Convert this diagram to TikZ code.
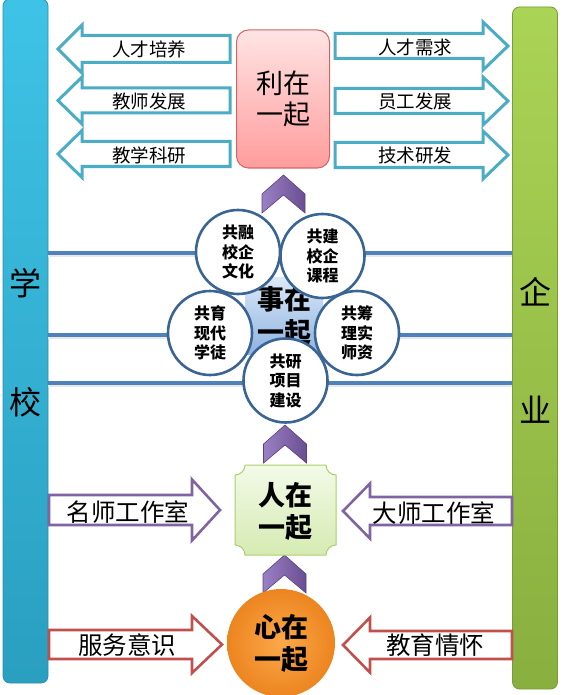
\documentclass[tikz,border=0pt]{standalone}
\usepackage{fontspec}
\setmainfont{Noto Sans CJK SC}
\usetikzlibrary{calc}
\definecolor{aquaedge}{HTML}{4BACC6}
\definecolor{purpedge}{HTML}{8064A2}
\definecolor{rededge}{HTML}{C0504D}
\definecolor{linkblue}{HTML}{4F81BD}
\definecolor{petaledge}{HTML}{3A6493}
\definecolor{schooltop}{HTML}{3EC3E6}
\definecolor{schoolbot}{HTML}{2A9FC0}
\definecolor{schooledge}{HTML}{2790AE}
\definecolor{firmtop}{HTML}{AAD455}
\definecolor{firmbot}{HTML}{89AF3F}
\definecolor{firmedge}{HTML}{789C36}
\definecolor{chevlight}{HTML}{9A80C4}
\definecolor{chevdark}{HTML}{6A4E92}
\definecolor{chevedge}{HTML}{5B437F}
\definecolor{litop}{HTML}{FFE4E4}
\definecolor{libot}{HTML}{FF9C9C}
\definecolor{liedge}{HTML}{D06565}
\definecolor{shitop}{HTML}{DCE8F7}
\definecolor{shibot}{HTML}{8DB3E2}
\definecolor{rentop}{HTML}{F3FAE8}
\definecolor{renbot}{HTML}{D5EBB2}
\definecolor{renedge}{HTML}{A9CF6D}
\definecolor{xinin}{HTML}{FCA84A}
\definecolor{xinout}{HTML}{EC8520}
\tikzset{
  cyanarrow/.style={draw=aquaedge, line width=3pt, fill=white, line join=miter},
  purparrow/.style={draw=purpedge, line width=2.6pt, fill=white, line join=miter},
  redarrow/.style={draw=rededge, line width=2.6pt, fill=white, line join=miter},
  chevstyle/.style={draw=chevedge, line width=0.6pt, left color=chevlight, right color=chevdark},
  bluelink/.style={draw=linkblue, line width=3.6pt},
  linkshadow/.style={draw=black!9, line width=2.5pt},
  petal/.style={circle, draw=petaledge, line width=2.6pt, fill=white, minimum size=84pt,
    inner sep=0pt, align=center, font=\bfseries\fontsize{16}{19.5}\selectfont},
  smalllbl/.style={inner sep=0pt, font=\fontsize{18.5}{18.5}\selectfont},
  midlbl/.style={inner sep=0pt, font=\fontsize{24.5}{24.5}\selectfont},
  barlbl/.style={inner sep=0pt, font=\fontsize{32}{32}\selectfont},
  biglbl/.style={align=center, font=\fontsize{27}{31}\selectfont},
}
\newcommand{\mkblockarrow}[7]{%
  \draw[#1] (#2,#5) -- (#3,{#5-#7}) -- (#3,{#5-#6}) -- (#4,{#5-#6})
    -- (#4,{#5+#6}) -- (#3,{#5+#6}) -- (#3,{#5+#7}) -- cycle;}
\newcommand{\mkchevron}[2]{%
  \draw[chevstyle] ({#1-21.5},{#2+19}) -- (#1,#2) -- ({#1+21.5},{#2+19})
    -- ({#1+21.5},{#2+38}) -- (#1,{#2+20}) -- ({#1-21.5},{#2+38}) -- cycle;}
\begin{document}
\begin{tikzpicture}[x=1pt,y=-1pt]
\useasboundingbox (0,0) rectangle (562,695);
% side bars
\node[draw=schooledge, line width=0.8pt, rounded corners=7pt, top color=schooltop,
  bottom color=schoolbot, minimum width=45pt, minimum height=684pt, inner sep=0pt]
  (school) at (25.5,341) {};
\node[draw=firmedge, line width=0.8pt, rounded corners=7pt, top color=firmtop,
  bottom color=firmbot, minimum width=45pt, minimum height=682pt, inner sep=0pt]
  (firm) at (535,348) {};
\node[barlbl] (xue) at (25.5,283) {学};
\node[barlbl] (xiao) at (25.5,402) {校};
\node[barlbl] (qi) at (535,292) {企};
\node[barlbl] (ye) at (535,410) {业};
% horizontal links (behind the circles)
\foreach \yy in {253,335,383}{
  \draw[linkshadow] ($(school.east |- 0,\yy)+(0,2.5)$) -- ($(firm.west |- 0,\yy)+(0,2.5)$);
}
\foreach \yy in {253,335,383}{
  \draw[bluelink] (school.east |- 0,\yy) -- (firm.west |- 0,\yy);
}
% top block arrows
\mkblockarrow{cyanarrow}{58}{82}{230}{49}{13.5}{24}
\mkblockarrow{cyanarrow}{58}{82}{230}{100.5}{12.5}{23.5}
\mkblockarrow{cyanarrow}{58}{82}{230}{154}{12.5}{23.5}
\mkblockarrow{cyanarrow}{508}{483}{335}{46}{12.5}{24}
\mkblockarrow{cyanarrow}{508}{483}{335}{101}{12.5}{24}
\mkblockarrow{cyanarrow}{508}{483}{335}{155}{12.5}{24}
\node[smalllbl] (t1) at (149,49) {人才培养};
\node[smalllbl] (t2) at (149,101) {教师发展};
\node[smalllbl] (t3) at (149,155) {教学科研};
\node[smalllbl] (t4) at (415,47) {人才需求};
\node[smalllbl] (t5) at (415,101) {员工发展};
\node[smalllbl] (t6) at (415,155) {技术研发};
% 利在一起
\node[biglbl, draw=liedge, line width=1pt, rounded corners=12pt, top color=litop,
  bottom color=libot, minimum width=93pt, minimum height=138pt, inner sep=0pt]
  (li) at (283,99) {利在\\一起};
% chevrons
\mkchevron{283.5}{175}
\mkchevron{285}{425}
\mkchevron{284.5}{555}
% 事在一起 square
\node[biglbl, font=\bfseries\fontsize{27}{33}\selectfont, top color=shitop, bottom color=shibot,
  minimum width=78pt, minimum height=77pt, inner sep=0pt] (shi) at (284,315.5) {事在\\一起};
% petals
\node[petal] (p1) at (238,252) {共融\\校企\\文化};
\node[petal] (p2) at (322.5,256) {共建\\校企\\课程};
\node[petal] (p3) at (210,333) {共育\\现代\\学徒};
\node[petal] (p4) at (357,333) {共筹\\理实\\师资};
\node[petal] (p5) at (285.5,380.5) {共研\\项目\\建设};
% bottom block arrows
\mkblockarrow{purparrow}{220}{192}{49}{510}{15}{30.5}
\mkblockarrow{purparrow}{343}{370}{512}{511}{14}{27.5}
\mkblockarrow{redarrow}{222}{192}{49}{644.5}{14.5}{28.5}
\mkblockarrow{redarrow}{343}{370}{512}{645}{14}{27.5}
\node[midlbl] (b1) at (128,512) {名师工作室};
\node[midlbl] (b2) at (434,513) {大师工作室};
\node[midlbl] (b3) at (127,645) {服务意识};
\node[midlbl] (b4) at (435,645) {教育情怀};
% 人在一起 plaque
\path[draw=renedge, line width=1pt, top color=rentop, bottom color=renbot]
  (245,465) -- (326,465) arc[start angle=180, end angle=90, radius=10]
  -- (336,545) arc[start angle=270, end angle=180, radius=10]
  -- (245,555) arc[start angle=0, end angle=-90, radius=10]
  -- (235,475) arc[start angle=90, end angle=0, radius=10] -- cycle;
\node[biglbl, font=\bfseries\fontsize{27}{32}\selectfont] (ren) at (285.5,511) {人在\\一起};
% 心在一起
\node[circle, biglbl, font=\bfseries\fontsize{27}{32}\selectfont, inner color=xinin,
  outer color=xinout, minimum size=108pt, inner sep=0pt] (xin) at (281,643) {心在\\一起};
\end{tikzpicture}
\end{document}
